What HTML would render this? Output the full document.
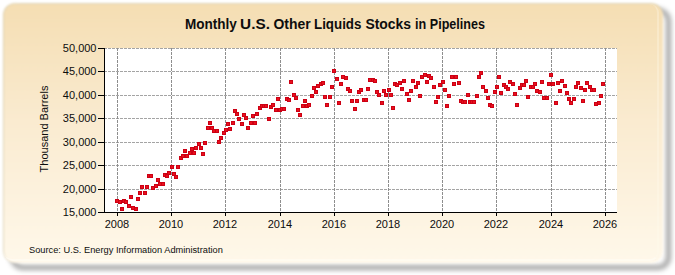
<!DOCTYPE html>
<html><head><meta charset="utf-8"><style>
html,body{margin:0;padding:0;background:#fff;width:675px;height:275px;overflow:hidden}
#shadow{position:absolute;left:10px;top:8px;width:661px;height:262px;box-sizing:border-box;border-radius:13px;border:5px solid rgba(0,0,0,0.36);filter:blur(2.6px)}
#frame{position:absolute;left:3px;top:3px;width:660px;height:260px;border-radius:12px;box-sizing:border-box;
border-top:1px solid rgba(215,205,175,0.8);border-left:1px solid rgba(215,205,175,0.8);
background:linear-gradient(to bottom,#f5deb3 0%,#faebd0 45%,#fff8ea 100%);filter:blur(0.8px)}
#hl{position:absolute;left:4px;top:4px;width:655px;height:257px;border-radius:9px;box-sizing:border-box;
border-right:2px solid rgba(255,252,240,0.3);border-bottom:2px solid rgba(255,253,248,0.5);filter:blur(0.4px)}
svg{position:absolute;left:0;top:0}
text{font-family:"Liberation Sans",sans-serif;fill:#0d0d0d}
</style></head><body>
<div id="shadow"></div><div id="frame"></div><div id="hl"></div>
<svg width="675" height="275" viewBox="0 0 675 275">
<rect x="104" y="48" width="513" height="164" fill="#fff"/>
<g stroke="#939393" stroke-width="1" stroke-dasharray="3,1" shape-rendering="crispEdges">
<line x1="104" y1="189.5" x2="617" y2="189.5" stroke="#a4a4a4"/>
<line x1="104" y1="165.5" x2="617" y2="165.5" stroke="#a4a4a4"/>
<line x1="104" y1="142.5" x2="617" y2="142.5" stroke="#a4a4a4"/>
<line x1="104" y1="118.5" x2="617" y2="118.5" stroke="#a4a4a4"/>
<line x1="104" y1="95.5" x2="617" y2="95.5" stroke="#a4a4a4"/>
<line x1="104" y1="71.5" x2="617" y2="71.5" stroke="#a4a4a4"/>
<line x1="104" y1="48.5" x2="617" y2="48.5" stroke="#a4a4a4"/>
<line x1="117.5" y1="48" x2="117.5" y2="212" stroke="#8e8e8e"/>
<line x1="171.5" y1="48" x2="171.5" y2="212" stroke="#8e8e8e"/>
<line x1="225.5" y1="48" x2="225.5" y2="212" stroke="#8e8e8e"/>
<line x1="280.5" y1="48" x2="280.5" y2="212" stroke="#8e8e8e"/>
<line x1="334.5" y1="48" x2="334.5" y2="212" stroke="#8e8e8e"/>
<line x1="388.5" y1="48" x2="388.5" y2="212" stroke="#8e8e8e"/>
<line x1="442.5" y1="48" x2="442.5" y2="212" stroke="#8e8e8e"/>
<line x1="496.5" y1="48" x2="496.5" y2="212" stroke="#8e8e8e"/>
<line x1="551.5" y1="48" x2="551.5" y2="212" stroke="#8e8e8e"/>
<line x1="605.5" y1="48" x2="605.5" y2="212" stroke="#8e8e8e"/>
</g>
<g stroke="#000" stroke-width="1" shape-rendering="crispEdges">
<line x1="104.5" y1="48" x2="104.5" y2="212.5"/>
<line x1="104" y1="212.5" x2="617" y2="212.5"/>
<line x1="98" y1="212.50" x2="104" y2="212.50"/>
<line x1="98" y1="189.50" x2="104" y2="189.50"/>
<line x1="98" y1="165.50" x2="104" y2="165.50"/>
<line x1="98" y1="142.50" x2="104" y2="142.50"/>
<line x1="98" y1="118.50" x2="104" y2="118.50"/>
<line x1="98" y1="95.50" x2="104" y2="95.50"/>
<line x1="98" y1="71.50" x2="104" y2="71.50"/>
<line x1="98" y1="48.50" x2="104" y2="48.50"/>
<line x1="117.50" y1="212" x2="117.50" y2="216"/>
<line x1="171.50" y1="212" x2="171.50" y2="216"/>
<line x1="225.50" y1="212" x2="225.50" y2="216"/>
<line x1="280.50" y1="212" x2="280.50" y2="216"/>
<line x1="334.50" y1="212" x2="334.50" y2="216"/>
<line x1="388.50" y1="212" x2="388.50" y2="216"/>
<line x1="442.50" y1="212" x2="442.50" y2="216"/>
<line x1="496.50" y1="212" x2="496.50" y2="216"/>
<line x1="551.50" y1="212" x2="551.50" y2="216"/>
<line x1="605.50" y1="212" x2="605.50" y2="216"/>
</g>
<g fill="#cc0014" shape-rendering="crispEdges">
<rect x="115" y="199" width="4" height="4"/><rect x="116" y="200" width="2" height="2" fill="#ea101c"/>
<rect x="118" y="200" width="4" height="4"/><rect x="119" y="201" width="2" height="2" fill="#ea101c"/>
<rect x="120" y="207" width="4" height="4"/><rect x="121" y="208" width="2" height="2" fill="#ea101c"/>
<rect x="122" y="199" width="4" height="4"/><rect x="123" y="200" width="2" height="2" fill="#ea101c"/>
<rect x="124" y="200" width="4" height="4"/><rect x="125" y="201" width="2" height="2" fill="#ea101c"/>
<rect x="127" y="204" width="4" height="4"/><rect x="128" y="205" width="2" height="2" fill="#ea101c"/>
<rect x="129" y="195" width="4" height="4"/><rect x="130" y="196" width="2" height="2" fill="#ea101c"/>
<rect x="131" y="206" width="4" height="4"/><rect x="132" y="207" width="2" height="2" fill="#ea101c"/>
<rect x="134" y="207" width="4" height="4"/><rect x="135" y="208" width="2" height="2" fill="#ea101c"/>
<rect x="136" y="197" width="4" height="4"/><rect x="137" y="198" width="2" height="2" fill="#ea101c"/>
<rect x="138" y="191" width="4" height="4"/><rect x="139" y="192" width="2" height="2" fill="#ea101c"/>
<rect x="140" y="185" width="4" height="4"/><rect x="141" y="186" width="2" height="2" fill="#ea101c"/>
<rect x="143" y="191" width="4" height="4"/><rect x="144" y="192" width="2" height="2" fill="#ea101c"/>
<rect x="145" y="185" width="4" height="4"/><rect x="146" y="186" width="2" height="2" fill="#ea101c"/>
<rect x="147" y="174" width="4" height="4"/><rect x="148" y="175" width="2" height="2" fill="#ea101c"/>
<rect x="149" y="174" width="4" height="4"/><rect x="150" y="175" width="2" height="2" fill="#ea101c"/>
<rect x="151" y="186" width="4" height="4"/><rect x="152" y="187" width="2" height="2" fill="#ea101c"/>
<rect x="154" y="184" width="4" height="4"/><rect x="155" y="185" width="2" height="2" fill="#ea101c"/>
<rect x="156" y="178" width="4" height="4"/><rect x="157" y="179" width="2" height="2" fill="#ea101c"/>
<rect x="158" y="182" width="4" height="4"/><rect x="159" y="183" width="2" height="2" fill="#ea101c"/>
<rect x="161" y="182" width="4" height="4"/><rect x="162" y="183" width="2" height="2" fill="#ea101c"/>
<rect x="163" y="173" width="4" height="4"/><rect x="164" y="174" width="2" height="2" fill="#ea101c"/>
<rect x="165" y="174" width="4" height="4"/><rect x="166" y="175" width="2" height="2" fill="#ea101c"/>
<rect x="167" y="171" width="4" height="4"/><rect x="168" y="172" width="2" height="2" fill="#ea101c"/>
<rect x="170" y="165" width="4" height="4"/><rect x="171" y="166" width="2" height="2" fill="#ea101c"/>
<rect x="172" y="172" width="4" height="4"/><rect x="173" y="173" width="2" height="2" fill="#ea101c"/>
<rect x="174" y="175" width="4" height="4"/><rect x="175" y="176" width="2" height="2" fill="#ea101c"/>
<rect x="176" y="165" width="4" height="4"/><rect x="177" y="166" width="2" height="2" fill="#ea101c"/>
<rect x="179" y="156" width="4" height="4"/><rect x="180" y="157" width="2" height="2" fill="#ea101c"/>
<rect x="181" y="154" width="4" height="4"/><rect x="182" y="155" width="2" height="2" fill="#ea101c"/>
<rect x="183" y="149" width="4" height="4"/><rect x="184" y="150" width="2" height="2" fill="#ea101c"/>
<rect x="185" y="154" width="4" height="4"/><rect x="186" y="155" width="2" height="2" fill="#ea101c"/>
<rect x="188" y="151" width="4" height="4"/><rect x="189" y="152" width="2" height="2" fill="#ea101c"/>
<rect x="190" y="147" width="4" height="4"/><rect x="191" y="148" width="2" height="2" fill="#ea101c"/>
<rect x="192" y="151" width="4" height="4"/><rect x="193" y="152" width="2" height="2" fill="#ea101c"/>
<rect x="194" y="146" width="4" height="4"/><rect x="195" y="147" width="2" height="2" fill="#ea101c"/>
<rect x="197" y="142" width="4" height="4"/><rect x="198" y="143" width="2" height="2" fill="#ea101c"/>
<rect x="199" y="146" width="4" height="4"/><rect x="200" y="147" width="2" height="2" fill="#ea101c"/>
<rect x="201" y="152" width="4" height="4"/><rect x="202" y="153" width="2" height="2" fill="#ea101c"/>
<rect x="203" y="141" width="4" height="4"/><rect x="204" y="142" width="2" height="2" fill="#ea101c"/>
<rect x="206" y="126" width="4" height="4"/><rect x="207" y="127" width="2" height="2" fill="#ea101c"/>
<rect x="208" y="121" width="4" height="4"/><rect x="209" y="122" width="2" height="2" fill="#ea101c"/>
<rect x="210" y="126" width="4" height="4"/><rect x="211" y="127" width="2" height="2" fill="#ea101c"/>
<rect x="212" y="129" width="4" height="4"/><rect x="213" y="130" width="2" height="2" fill="#ea101c"/>
<rect x="215" y="129" width="4" height="4"/><rect x="216" y="130" width="2" height="2" fill="#ea101c"/>
<rect x="217" y="140" width="4" height="4"/><rect x="218" y="141" width="2" height="2" fill="#ea101c"/>
<rect x="219" y="136" width="4" height="4"/><rect x="220" y="137" width="2" height="2" fill="#ea101c"/>
<rect x="222" y="131" width="4" height="4"/><rect x="223" y="132" width="2" height="2" fill="#ea101c"/>
<rect x="224" y="128" width="4" height="4"/><rect x="225" y="129" width="2" height="2" fill="#ea101c"/>
<rect x="226" y="122" width="4" height="4"/><rect x="227" y="123" width="2" height="2" fill="#ea101c"/>
<rect x="228" y="127" width="4" height="4"/><rect x="229" y="128" width="2" height="2" fill="#ea101c"/>
<rect x="231" y="121" width="4" height="4"/><rect x="232" y="122" width="2" height="2" fill="#ea101c"/>
<rect x="233" y="109" width="4" height="4"/><rect x="234" y="110" width="2" height="2" fill="#ea101c"/>
<rect x="235" y="112" width="4" height="4"/><rect x="236" y="113" width="2" height="2" fill="#ea101c"/>
<rect x="237" y="117" width="4" height="4"/><rect x="238" y="118" width="2" height="2" fill="#ea101c"/>
<rect x="240" y="122" width="4" height="4"/><rect x="241" y="123" width="2" height="2" fill="#ea101c"/>
<rect x="242" y="113" width="4" height="4"/><rect x="243" y="114" width="2" height="2" fill="#ea101c"/>
<rect x="244" y="116" width="4" height="4"/><rect x="245" y="117" width="2" height="2" fill="#ea101c"/>
<rect x="246" y="126" width="4" height="4"/><rect x="247" y="127" width="2" height="2" fill="#ea101c"/>
<rect x="249" y="121" width="4" height="4"/><rect x="250" y="122" width="2" height="2" fill="#ea101c"/>
<rect x="251" y="114" width="4" height="4"/><rect x="252" y="115" width="2" height="2" fill="#ea101c"/>
<rect x="253" y="121" width="4" height="4"/><rect x="254" y="122" width="2" height="2" fill="#ea101c"/>
<rect x="255" y="112" width="4" height="4"/><rect x="256" y="113" width="2" height="2" fill="#ea101c"/>
<rect x="258" y="106" width="4" height="4"/><rect x="259" y="107" width="2" height="2" fill="#ea101c"/>
<rect x="260" y="104" width="4" height="4"/><rect x="261" y="105" width="2" height="2" fill="#ea101c"/>
<rect x="262" y="104" width="4" height="4"/><rect x="263" y="105" width="2" height="2" fill="#ea101c"/>
<rect x="264" y="104" width="4" height="4"/><rect x="265" y="105" width="2" height="2" fill="#ea101c"/>
<rect x="267" y="117" width="4" height="4"/><rect x="268" y="118" width="2" height="2" fill="#ea101c"/>
<rect x="269" y="105" width="4" height="4"/><rect x="270" y="106" width="2" height="2" fill="#ea101c"/>
<rect x="271" y="103" width="4" height="4"/><rect x="272" y="104" width="2" height="2" fill="#ea101c"/>
<rect x="274" y="108" width="4" height="4"/><rect x="275" y="109" width="2" height="2" fill="#ea101c"/>
<rect x="276" y="97" width="4" height="4"/><rect x="277" y="98" width="2" height="2" fill="#ea101c"/>
<rect x="278" y="108" width="4" height="4"/><rect x="279" y="109" width="2" height="2" fill="#ea101c"/>
<rect x="280" y="107" width="4" height="4"/><rect x="281" y="108" width="2" height="2" fill="#ea101c"/>
<rect x="282" y="107" width="4" height="4"/><rect x="283" y="108" width="2" height="2" fill="#ea101c"/>
<rect x="285" y="97" width="4" height="4"/><rect x="286" y="98" width="2" height="2" fill="#ea101c"/>
<rect x="287" y="98" width="4" height="4"/><rect x="288" y="99" width="2" height="2" fill="#ea101c"/>
<rect x="289" y="80" width="4" height="4"/><rect x="290" y="81" width="2" height="2" fill="#ea101c"/>
<rect x="292" y="93" width="4" height="4"/><rect x="293" y="94" width="2" height="2" fill="#ea101c"/>
<rect x="294" y="96" width="4" height="4"/><rect x="295" y="97" width="2" height="2" fill="#ea101c"/>
<rect x="296" y="108" width="4" height="4"/><rect x="297" y="109" width="2" height="2" fill="#ea101c"/>
<rect x="298" y="113" width="4" height="4"/><rect x="299" y="114" width="2" height="2" fill="#ea101c"/>
<rect x="301" y="104" width="4" height="4"/><rect x="302" y="105" width="2" height="2" fill="#ea101c"/>
<rect x="303" y="99" width="4" height="4"/><rect x="304" y="100" width="2" height="2" fill="#ea101c"/>
<rect x="305" y="104" width="4" height="4"/><rect x="306" y="105" width="2" height="2" fill="#ea101c"/>
<rect x="307" y="103" width="4" height="4"/><rect x="308" y="104" width="2" height="2" fill="#ea101c"/>
<rect x="310" y="94" width="4" height="4"/><rect x="311" y="95" width="2" height="2" fill="#ea101c"/>
<rect x="312" y="86" width="4" height="4"/><rect x="313" y="87" width="2" height="2" fill="#ea101c"/>
<rect x="314" y="90" width="4" height="4"/><rect x="315" y="91" width="2" height="2" fill="#ea101c"/>
<rect x="316" y="84" width="4" height="4"/><rect x="317" y="85" width="2" height="2" fill="#ea101c"/>
<rect x="319" y="82" width="4" height="4"/><rect x="320" y="83" width="2" height="2" fill="#ea101c"/>
<rect x="321" y="81" width="4" height="4"/><rect x="322" y="82" width="2" height="2" fill="#ea101c"/>
<rect x="323" y="95" width="4" height="4"/><rect x="324" y="96" width="2" height="2" fill="#ea101c"/>
<rect x="325" y="103" width="4" height="4"/><rect x="326" y="104" width="2" height="2" fill="#ea101c"/>
<rect x="328" y="95" width="4" height="4"/><rect x="329" y="96" width="2" height="2" fill="#ea101c"/>
<rect x="330" y="85" width="4" height="4"/><rect x="331" y="86" width="2" height="2" fill="#ea101c"/>
<rect x="332" y="69" width="4" height="4"/><rect x="333" y="70" width="2" height="2" fill="#ea101c"/>
<rect x="335" y="77" width="4" height="4"/><rect x="336" y="78" width="2" height="2" fill="#ea101c"/>
<rect x="337" y="101" width="4" height="4"/><rect x="338" y="102" width="2" height="2" fill="#ea101c"/>
<rect x="339" y="82" width="4" height="4"/><rect x="340" y="83" width="2" height="2" fill="#ea101c"/>
<rect x="341" y="75" width="4" height="4"/><rect x="342" y="76" width="2" height="2" fill="#ea101c"/>
<rect x="344" y="76" width="4" height="4"/><rect x="345" y="77" width="2" height="2" fill="#ea101c"/>
<rect x="346" y="87" width="4" height="4"/><rect x="347" y="88" width="2" height="2" fill="#ea101c"/>
<rect x="348" y="89" width="4" height="4"/><rect x="349" y="90" width="2" height="2" fill="#ea101c"/>
<rect x="350" y="99" width="4" height="4"/><rect x="351" y="100" width="2" height="2" fill="#ea101c"/>
<rect x="353" y="107" width="4" height="4"/><rect x="354" y="108" width="2" height="2" fill="#ea101c"/>
<rect x="355" y="99" width="4" height="4"/><rect x="356" y="100" width="2" height="2" fill="#ea101c"/>
<rect x="357" y="90" width="4" height="4"/><rect x="358" y="91" width="2" height="2" fill="#ea101c"/>
<rect x="359" y="88" width="4" height="4"/><rect x="360" y="89" width="2" height="2" fill="#ea101c"/>
<rect x="362" y="98" width="4" height="4"/><rect x="363" y="99" width="2" height="2" fill="#ea101c"/>
<rect x="364" y="98" width="4" height="4"/><rect x="365" y="99" width="2" height="2" fill="#ea101c"/>
<rect x="366" y="87" width="4" height="4"/><rect x="367" y="88" width="2" height="2" fill="#ea101c"/>
<rect x="368" y="78" width="4" height="4"/><rect x="369" y="79" width="2" height="2" fill="#ea101c"/>
<rect x="371" y="78" width="4" height="4"/><rect x="372" y="79" width="2" height="2" fill="#ea101c"/>
<rect x="373" y="79" width="4" height="4"/><rect x="374" y="80" width="2" height="2" fill="#ea101c"/>
<rect x="375" y="90" width="4" height="4"/><rect x="376" y="91" width="2" height="2" fill="#ea101c"/>
<rect x="377" y="93" width="4" height="4"/><rect x="378" y="94" width="2" height="2" fill="#ea101c"/>
<rect x="380" y="101" width="4" height="4"/><rect x="381" y="102" width="2" height="2" fill="#ea101c"/>
<rect x="382" y="89" width="4" height="4"/><rect x="383" y="90" width="2" height="2" fill="#ea101c"/>
<rect x="384" y="93" width="4" height="4"/><rect x="385" y="94" width="2" height="2" fill="#ea101c"/>
<rect x="387" y="88" width="4" height="4"/><rect x="388" y="89" width="2" height="2" fill="#ea101c"/>
<rect x="389" y="93" width="4" height="4"/><rect x="390" y="94" width="2" height="2" fill="#ea101c"/>
<rect x="391" y="106" width="4" height="4"/><rect x="392" y="107" width="2" height="2" fill="#ea101c"/>
<rect x="393" y="82" width="4" height="4"/><rect x="394" y="83" width="2" height="2" fill="#ea101c"/>
<rect x="395" y="83" width="4" height="4"/><rect x="396" y="84" width="2" height="2" fill="#ea101c"/>
<rect x="398" y="81" width="4" height="4"/><rect x="399" y="82" width="2" height="2" fill="#ea101c"/>
<rect x="400" y="87" width="4" height="4"/><rect x="401" y="88" width="2" height="2" fill="#ea101c"/>
<rect x="402" y="79" width="4" height="4"/><rect x="403" y="80" width="2" height="2" fill="#ea101c"/>
<rect x="405" y="92" width="4" height="4"/><rect x="406" y="93" width="2" height="2" fill="#ea101c"/>
<rect x="407" y="98" width="4" height="4"/><rect x="408" y="99" width="2" height="2" fill="#ea101c"/>
<rect x="409" y="89" width="4" height="4"/><rect x="410" y="90" width="2" height="2" fill="#ea101c"/>
<rect x="411" y="79" width="4" height="4"/><rect x="412" y="80" width="2" height="2" fill="#ea101c"/>
<rect x="414" y="85" width="4" height="4"/><rect x="415" y="86" width="2" height="2" fill="#ea101c"/>
<rect x="416" y="81" width="4" height="4"/><rect x="417" y="82" width="2" height="2" fill="#ea101c"/>
<rect x="418" y="94" width="4" height="4"/><rect x="419" y="95" width="2" height="2" fill="#ea101c"/>
<rect x="420" y="75" width="4" height="4"/><rect x="421" y="76" width="2" height="2" fill="#ea101c"/>
<rect x="423" y="73" width="4" height="4"/><rect x="424" y="74" width="2" height="2" fill="#ea101c"/>
<rect x="425" y="80" width="4" height="4"/><rect x="426" y="81" width="2" height="2" fill="#ea101c"/>
<rect x="427" y="74" width="4" height="4"/><rect x="428" y="75" width="2" height="2" fill="#ea101c"/>
<rect x="429" y="76" width="4" height="4"/><rect x="430" y="77" width="2" height="2" fill="#ea101c"/>
<rect x="432" y="85" width="4" height="4"/><rect x="433" y="86" width="2" height="2" fill="#ea101c"/>
<rect x="434" y="100" width="4" height="4"/><rect x="435" y="101" width="2" height="2" fill="#ea101c"/>
<rect x="436" y="95" width="4" height="4"/><rect x="437" y="96" width="2" height="2" fill="#ea101c"/>
<rect x="438" y="83" width="4" height="4"/><rect x="439" y="84" width="2" height="2" fill="#ea101c"/>
<rect x="441" y="80" width="4" height="4"/><rect x="442" y="81" width="2" height="2" fill="#ea101c"/>
<rect x="443" y="88" width="4" height="4"/><rect x="444" y="89" width="2" height="2" fill="#ea101c"/>
<rect x="445" y="104" width="4" height="4"/><rect x="446" y="105" width="2" height="2" fill="#ea101c"/>
<rect x="447" y="94" width="4" height="4"/><rect x="448" y="95" width="2" height="2" fill="#ea101c"/>
<rect x="450" y="75" width="4" height="4"/><rect x="451" y="76" width="2" height="2" fill="#ea101c"/>
<rect x="452" y="82" width="4" height="4"/><rect x="453" y="83" width="2" height="2" fill="#ea101c"/>
<rect x="454" y="75" width="4" height="4"/><rect x="455" y="76" width="2" height="2" fill="#ea101c"/>
<rect x="457" y="81" width="4" height="4"/><rect x="458" y="82" width="2" height="2" fill="#ea101c"/>
<rect x="459" y="99" width="4" height="4"/><rect x="460" y="100" width="2" height="2" fill="#ea101c"/>
<rect x="461" y="100" width="4" height="4"/><rect x="462" y="101" width="2" height="2" fill="#ea101c"/>
<rect x="463" y="100" width="4" height="4"/><rect x="464" y="101" width="2" height="2" fill="#ea101c"/>
<rect x="466" y="93" width="4" height="4"/><rect x="467" y="94" width="2" height="2" fill="#ea101c"/>
<rect x="468" y="100" width="4" height="4"/><rect x="469" y="101" width="2" height="2" fill="#ea101c"/>
<rect x="470" y="100" width="4" height="4"/><rect x="471" y="101" width="2" height="2" fill="#ea101c"/>
<rect x="472" y="100" width="4" height="4"/><rect x="473" y="101" width="2" height="2" fill="#ea101c"/>
<rect x="475" y="94" width="4" height="4"/><rect x="476" y="95" width="2" height="2" fill="#ea101c"/>
<rect x="477" y="75" width="4" height="4"/><rect x="478" y="76" width="2" height="2" fill="#ea101c"/>
<rect x="479" y="71" width="4" height="4"/><rect x="480" y="72" width="2" height="2" fill="#ea101c"/>
<rect x="481" y="85" width="4" height="4"/><rect x="482" y="86" width="2" height="2" fill="#ea101c"/>
<rect x="484" y="89" width="4" height="4"/><rect x="485" y="90" width="2" height="2" fill="#ea101c"/>
<rect x="486" y="96" width="4" height="4"/><rect x="487" y="97" width="2" height="2" fill="#ea101c"/>
<rect x="488" y="103" width="4" height="4"/><rect x="489" y="104" width="2" height="2" fill="#ea101c"/>
<rect x="490" y="104" width="4" height="4"/><rect x="491" y="105" width="2" height="2" fill="#ea101c"/>
<rect x="493" y="90" width="4" height="4"/><rect x="494" y="91" width="2" height="2" fill="#ea101c"/>
<rect x="495" y="85" width="4" height="4"/><rect x="496" y="86" width="2" height="2" fill="#ea101c"/>
<rect x="497" y="75" width="4" height="4"/><rect x="498" y="76" width="2" height="2" fill="#ea101c"/>
<rect x="499" y="91" width="4" height="4"/><rect x="500" y="92" width="2" height="2" fill="#ea101c"/>
<rect x="502" y="83" width="4" height="4"/><rect x="503" y="84" width="2" height="2" fill="#ea101c"/>
<rect x="504" y="85" width="4" height="4"/><rect x="505" y="86" width="2" height="2" fill="#ea101c"/>
<rect x="506" y="87" width="4" height="4"/><rect x="507" y="88" width="2" height="2" fill="#ea101c"/>
<rect x="508" y="80" width="4" height="4"/><rect x="509" y="81" width="2" height="2" fill="#ea101c"/>
<rect x="511" y="82" width="4" height="4"/><rect x="512" y="83" width="2" height="2" fill="#ea101c"/>
<rect x="513" y="92" width="4" height="4"/><rect x="514" y="93" width="2" height="2" fill="#ea101c"/>
<rect x="515" y="103" width="4" height="4"/><rect x="516" y="104" width="2" height="2" fill="#ea101c"/>
<rect x="518" y="86" width="4" height="4"/><rect x="519" y="87" width="2" height="2" fill="#ea101c"/>
<rect x="520" y="83" width="4" height="4"/><rect x="521" y="84" width="2" height="2" fill="#ea101c"/>
<rect x="522" y="83" width="4" height="4"/><rect x="523" y="84" width="2" height="2" fill="#ea101c"/>
<rect x="524" y="79" width="4" height="4"/><rect x="525" y="80" width="2" height="2" fill="#ea101c"/>
<rect x="526" y="95" width="4" height="4"/><rect x="527" y="96" width="2" height="2" fill="#ea101c"/>
<rect x="529" y="85" width="4" height="4"/><rect x="530" y="86" width="2" height="2" fill="#ea101c"/>
<rect x="531" y="85" width="4" height="4"/><rect x="532" y="86" width="2" height="2" fill="#ea101c"/>
<rect x="533" y="82" width="4" height="4"/><rect x="534" y="83" width="2" height="2" fill="#ea101c"/>
<rect x="535" y="89" width="4" height="4"/><rect x="536" y="90" width="2" height="2" fill="#ea101c"/>
<rect x="538" y="90" width="4" height="4"/><rect x="539" y="91" width="2" height="2" fill="#ea101c"/>
<rect x="540" y="80" width="4" height="4"/><rect x="541" y="81" width="2" height="2" fill="#ea101c"/>
<rect x="542" y="96" width="4" height="4"/><rect x="543" y="97" width="2" height="2" fill="#ea101c"/>
<rect x="545" y="96" width="4" height="4"/><rect x="546" y="97" width="2" height="2" fill="#ea101c"/>
<rect x="547" y="82" width="4" height="4"/><rect x="548" y="83" width="2" height="2" fill="#ea101c"/>
<rect x="549" y="73" width="4" height="4"/><rect x="550" y="74" width="2" height="2" fill="#ea101c"/>
<rect x="551" y="82" width="4" height="4"/><rect x="552" y="83" width="2" height="2" fill="#ea101c"/>
<rect x="554" y="101" width="4" height="4"/><rect x="555" y="102" width="2" height="2" fill="#ea101c"/>
<rect x="556" y="81" width="4" height="4"/><rect x="557" y="82" width="2" height="2" fill="#ea101c"/>
<rect x="558" y="89" width="4" height="4"/><rect x="559" y="90" width="2" height="2" fill="#ea101c"/>
<rect x="560" y="79" width="4" height="4"/><rect x="561" y="80" width="2" height="2" fill="#ea101c"/>
<rect x="563" y="84" width="4" height="4"/><rect x="564" y="85" width="2" height="2" fill="#ea101c"/>
<rect x="565" y="91" width="4" height="4"/><rect x="566" y="92" width="2" height="2" fill="#ea101c"/>
<rect x="567" y="97" width="4" height="4"/><rect x="568" y="98" width="2" height="2" fill="#ea101c"/>
<rect x="569" y="101" width="4" height="4"/><rect x="570" y="102" width="2" height="2" fill="#ea101c"/>
<rect x="572" y="97" width="4" height="4"/><rect x="573" y="98" width="2" height="2" fill="#ea101c"/>
<rect x="574" y="85" width="4" height="4"/><rect x="575" y="86" width="2" height="2" fill="#ea101c"/>
<rect x="576" y="81" width="4" height="4"/><rect x="577" y="82" width="2" height="2" fill="#ea101c"/>
<rect x="579" y="86" width="4" height="4"/><rect x="580" y="87" width="2" height="2" fill="#ea101c"/>
<rect x="581" y="99" width="4" height="4"/><rect x="582" y="100" width="2" height="2" fill="#ea101c"/>
<rect x="583" y="88" width="4" height="4"/><rect x="584" y="89" width="2" height="2" fill="#ea101c"/>
<rect x="585" y="81" width="4" height="4"/><rect x="586" y="82" width="2" height="2" fill="#ea101c"/>
<rect x="588" y="85" width="4" height="4"/><rect x="589" y="86" width="2" height="2" fill="#ea101c"/>
<rect x="590" y="88" width="4" height="4"/><rect x="591" y="89" width="2" height="2" fill="#ea101c"/>
<rect x="592" y="88" width="4" height="4"/><rect x="593" y="89" width="2" height="2" fill="#ea101c"/>
<rect x="594" y="102" width="4" height="4"/><rect x="595" y="103" width="2" height="2" fill="#ea101c"/>
<rect x="597" y="101" width="4" height="4"/><rect x="598" y="102" width="2" height="2" fill="#ea101c"/>
<rect x="599" y="94" width="4" height="4"/><rect x="600" y="95" width="2" height="2" fill="#ea101c"/>
<rect x="601" y="82" width="4" height="4"/><rect x="602" y="83" width="2" height="2" fill="#ea101c"/>
</g>
<g font-size="11">
<text x="96.5" y="216.00" text-anchor="end">15,000</text>
<text x="96.5" y="192.57" text-anchor="end">20,000</text>
<text x="96.5" y="169.14" text-anchor="end">25,000</text>
<text x="96.5" y="145.71" text-anchor="end">30,000</text>
<text x="96.5" y="122.29" text-anchor="end">35,000</text>
<text x="96.5" y="98.86" text-anchor="end">40,000</text>
<text x="96.5" y="75.43" text-anchor="end">45,000</text>
<text x="96.5" y="52.00" text-anchor="end">50,000</text>
<text x="117.00" y="228" text-anchor="middle">2008</text>
<text x="171.00" y="228" text-anchor="middle">2010</text>
<text x="225.00" y="228" text-anchor="middle">2012</text>
<text x="280.00" y="228" text-anchor="middle">2014</text>
<text x="334.00" y="228" text-anchor="middle">2016</text>
<text x="388.00" y="228" text-anchor="middle">2018</text>
<text x="442.00" y="228" text-anchor="middle">2020</text>
<text x="496.00" y="228" text-anchor="middle">2022</text>
<text x="551.00" y="228" text-anchor="middle">2024</text>
<text x="605.00" y="228" text-anchor="middle">2026</text>
</g>
<g font-size="14" font-weight="bold"><text x="185.0" y="29" textLength="51.9" lengthAdjust="spacingAndGlyphs">Monthly</text><text x="240.1" y="29" textLength="29.8" lengthAdjust="spacingAndGlyphs">U.S.</text><text x="273.4" y="29" textLength="37.2" lengthAdjust="spacingAndGlyphs">Other</text><text x="314.0" y="29" textLength="47.4" lengthAdjust="spacingAndGlyphs">Liquids</text><text x="365.4" y="29" textLength="45.6" lengthAdjust="spacingAndGlyphs">Stocks</text><text x="415.0" y="29" textLength="11.2" lengthAdjust="spacingAndGlyphs">in</text><text x="429.8" y="29" textLength="55.1" lengthAdjust="spacingAndGlyphs">Pipelines</text></g>
<text transform="translate(48,129) rotate(-90)" text-anchor="middle" font-size="11">Thousand Barrels</text>
<text x="29" y="252.6" font-size="9.25">Source: U.S. Energy Information Administration</text>
</svg>
</body></html>
